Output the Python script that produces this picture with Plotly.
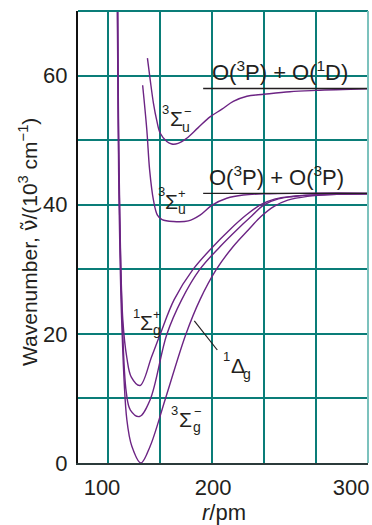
import plotly.graph_objects as go

# ---------------- data (r / pm, wavenumber / 10^3 cm^-1) ----------------
r_X = [109.0, 110.3, 113.2, 118.2, 123.0, 131.7, 140.6, 155.0, 174.9, 188.6, 204.0, 220.3, 235.0, 247.5, 259.5, 273.0, 292.0, 320.0, 349.9]
E_X = [70.0, 45.0, 22.2, 6.7, 2.6, 0.0, 2.6, 9.8, 19.9, 25.3, 29.9, 33.5, 36.1, 38.2, 39.7, 40.7, 41.3, 41.6, 41.7]

r_a = [109.3, 110.6, 113.8, 117.6, 121.6, 130.3, 140.6, 156.6, 171.0, 188.0, 207.8, 223.9, 238.5, 250.5, 264.0, 281.0, 310.0, 349.9]
E_a = [70.0, 45.0, 22.2, 11.0, 8.2, 7.2, 9.8, 19.9, 25.3, 29.9, 33.5, 36.1, 38.3, 40.0, 40.9, 41.3, 41.6, 41.7]

r_b = [109.5, 110.8, 114.3, 118.2, 122.5, 130.9, 142.1, 150.2, 163.7, 181.5, 201.0, 217.0, 233.0, 247.0, 261.0, 278.0, 305.0, 349.9]
E_b = [70.0, 45.0, 22.2, 16.3, 13.3, 12.0, 16.5, 19.9, 25.3, 29.9, 33.5, 36.1, 38.4, 40.0, 40.9, 41.3, 41.6, 41.7]

r_Su_plus = [133.4, 137.4, 140.1, 143.8, 147.6, 152.1, 163.0, 177.4, 188.6, 199.9, 214.3, 230.2, 255.8, 300.0, 349.9]
E_Su_plus = [58.5, 51.6, 45.4, 40.7, 38.4, 37.7, 37.4, 37.5, 38.4, 39.9, 41.0, 41.5, 41.7, 41.8, 41.8]

r_Su_minus = [138.0, 140.7, 143.8, 146.9, 150.2, 156.6, 161.4, 167.5, 175.8, 186.6, 198.2, 209.7, 220.6, 233.7, 250.1, 275.0, 300.0, 349.9]
E_Su_minus = [62.7, 59.3, 55.7, 53.1, 51.1, 49.8, 49.4, 49.5, 50.3, 51.9, 53.6, 54.8, 56.0, 56.8, 57.1, 57.5, 57.7, 57.95]

r_limit = [191.6, 350.2]
E_limit_1D = [58.0, 58.0]
E_limit_3P = [41.75, 41.75]

r_leader = [183.1, 205.2]
E_leader = [22.0, 17.5]

x_grid = [100, 150, 200, 250, 300]
x_tick_pos = [94.3, 201.1, 333.9]
x_tick_text = ["100", "200", "300"]
y_tick_vals = [0, 20, 40, 60]
y_tick_text = ["0", "20", "40", "60"]
y_grid_minor = [10, 30, 50]

# ---------------- styling ----------------
PURPLE = "#6c2484"
TEAL = "#0a7d78"
TXT = "#231f20"
FONT = "Liberation Sans, Arial, sans-serif"

fig = go.Figure()
for r, E in [(r_X, E_X), (r_a, E_a), (r_b, E_b), (r_Su_plus, E_Su_plus), (r_Su_minus, E_Su_minus)]:
    fig.add_trace(go.Scatter(x=r, y=E, mode="lines",
                             line=dict(color=PURPLE, width=1.4, shape="spline", smoothing=1.0),
                             hoverinfo="skip", showlegend=False))

for E in (E_limit_1D, E_limit_3P):
    fig.add_trace(go.Scatter(x=r_limit, y=E, mode="lines",
                             line=dict(color="#231f20", width=1.4),
                             hoverinfo="skip", showlegend=False))
fig.add_trace(go.Scatter(x=r_leader, y=E_leader, mode="lines",
                         line=dict(color="#231f20", width=1.2),
                         hoverinfo="skip", showlegend=False))

XR = [71.2, 350.2]
fig.update_layout(
    width=372, height=525,
    margin=dict(l=78, r=4, t=11, b=62, autoexpand=False),
    paper_bgcolor="white", plot_bgcolor="white",
    font=dict(family=FONT, color=TXT, size=22),
    xaxis=dict(range=XR, tickvals=x_tick_pos, ticktext=x_tick_text,
               showgrid=False,
               minor=dict(tickvals=x_grid, showgrid=True, gridcolor=TEAL, gridwidth=2, ticks=""),
               showline=True, linecolor="#2b3a3a", linewidth=2,
               zeroline=False, ticks="",
               tickfont=dict(size=22, color=TXT, family=FONT),
               ticklabelstandoff=4),
    yaxis=dict(range=[0, 70], tickvals=y_tick_vals, ticktext=y_tick_text,
               showgrid=True, gridcolor=TEAL, gridwidth=2,
               minor=dict(tickvals=y_grid_minor, showgrid=True, gridcolor=TEAL, gridwidth=2, ticks=""),
               showline=True, linecolor="#111111", linewidth=2,
               zeroline=False, ticks="",
               tickfont=dict(size=22, color=TXT, family=FONT),
               ticklabelstandoff=4),
)

# border lines (top teal, right light teal)
fig.add_shape(type="line", xref="paper", yref="paper", x0=0, x1=1, y0=1, y1=1,
              line=dict(color=TEAL, width=2))
fig.add_shape(type="line", xref="paper", yref="paper", x0=1, x1=1, y0=0, y1=1,
              line=dict(color="#7cc2bd", width=2))

def ann(text, x, y, size, xref="x", yref="y", **kw):
    fig.add_annotation(text=text, x=x, y=y, xref=xref, yref=yref, showarrow=False,
                       font=dict(size=size, color=TXT, family=FONT),
                       xanchor="center", yanchor="middle", **kw)

# asymptote labels
ann("O(<sup>3</sup>P) + O(<sup>1</sup>D)", 265.5, 60.7, 22)
ann("O(<sup>3</sup>P) + O(<sup>3</sup>P)", 261.7, 44.5, 22)

# state labels: (pre-superscript, symbol, post-superscript, subscript)
states = [
    ("3", (155.6, 54.8), "Σ", (165.5, 53.4), "−", (176.7, 54.4), "u", (174.8, 52.1)),
    ("3", (151.1, 42.0), "Σ", (160.7, 40.5), "+", (171.5, 41.7), "u", (171.0, 39.3)),
    ("1", (127.7, 23.2), "Σ", (136.9, 21.8), "+", (146.9, 23.0), "g", (146.9, 20.6)),
    ("3", (164.2, 8.2), "Σ", (174.4, 6.7), "−", (186.4, 7.9), "g", (185.4, 5.5)),
]
for pre, p1, sym, p2, sup, p3, sub, p4 in states:
    ann(pre, *p1, 13)
    ann(sym, *p2, 21)
    ann(sup, *p3, 13)
    ann(sub, *p4, 14)
ann("1", 213.6, 16.5, 13)
ann("Δ", 224.7, 15.1, 21)
ann("g", 233.5, 13.8, 14)

# axis titles
ann("Wavenumber, <span style=\"font-family:'DejaVu Sans'\">\u03bd\u0303</span>/(10<sup>3</sup> cm<sup>\u22121</sup>)",
    -0.169, 0.489, 21, xref="paper", yref="paper", textangle=-90)
ann("<i>r</i>/pm", 0.503, -0.11, 22, xref="paper", yref="paper")

fig.write_html("out.html", config={"displayModeBar": False},
               post_script="document.body.style.margin='0';document.body.style.padding='0';")
